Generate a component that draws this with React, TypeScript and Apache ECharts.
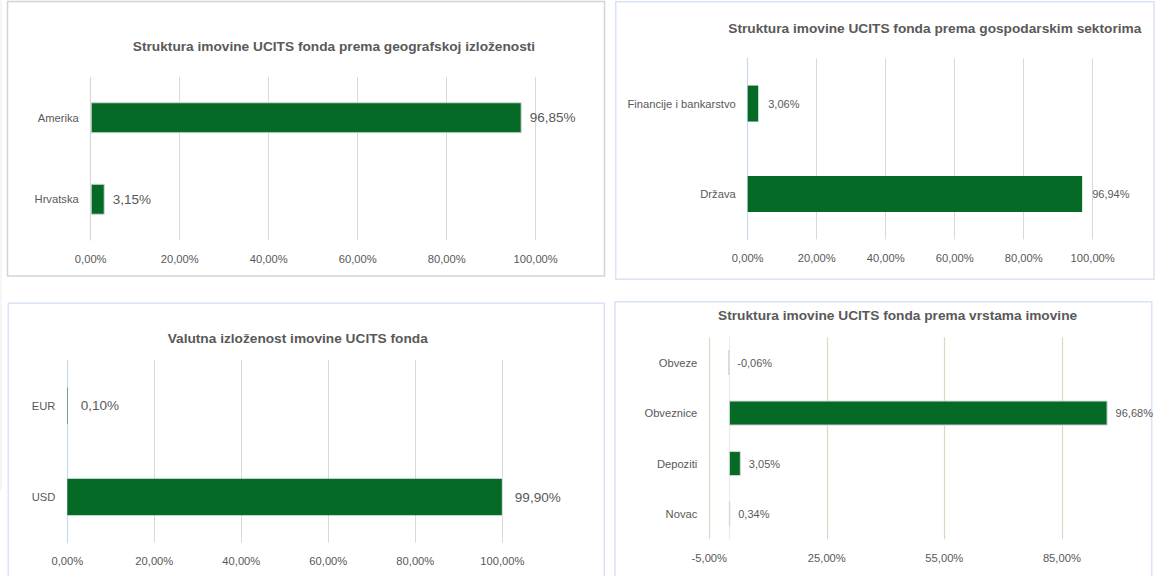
import React, { useEffect, useRef } from "react";
import * as echarts from "echarts";

// ---------- data ----------
const geoCategories = ["Amerika", "Hrvatska"];
const geoValues = [96.85, 3.15];

const sectorCategories = ["Financije i bankarstvo", "Država"];
const sectorValues = [3.06, 96.94];

const currencyCategories = ["EUR", "USD"];
const currencyValues = [0.1, 99.9];

const assetCategories = ["Obveze", "Obveznice", "Depoziti", "Novac"];
const assetValues = [-0.06, 96.68, 3.05, 0.34];

const titles = [
  "Struktura imovine UCITS fonda prema geografskoj izloženosti",
  "Struktura imovine UCITS fonda prema gospodarskim sektorima",
  "Valutna izloženost imovine UCITS fonda",
  "Struktura imovine UCITS fonda prema vrstama imovine",
];

const FONT = "'Liberation Sans Narrow', 'Arial Narrow', 'Liberation Sans', Arial, sans-serif";
const GREEN = "#046A26";
const TEXT = "#595959";

const pct = (v: number) => v.toFixed(2).replace(".", ",") + "%";

function buildOption() {
  const grids = [
    { left: 90.7, top: 77, width: 445, height: 163 },
    { left: 747.7, top: 58.3, width: 345, height: 181 },
    { left: 67.3, top: 360, width: 435, height: 182.7 },
    { left: 709.3, top: 337.3, width: 430.9, height: 202 },
  ];

  const pctAxis = (gridIndex: number, show = true) => ({
    type: "value",
    gridIndex,
    position: "bottom",
    min: 0,
    max: 100,
    interval: 20,
    axisLine: { show: false },
    axisTick: { show: false },
    axisLabel: {
      show,
      formatter: (v: number) => pct(v),
      color: TEXT,
      fontSize: 11.2,
      fontFamily: FONT,
      margin: 13,
    },
    splitLine: { show, lineStyle: { color: "#d9d9d9", width: 1 } },
  });

  const xAxes: any[] = [
    pctAxis(0),
    pctAxis(1),
    pctAxis(2),
    // panel 4 data axis (hidden)
    {
      type: "value",
      gridIndex: 3,
      position: "top",
      min: -5,
      max: 105,
      show: false,
      splitLine: { show: false },
    },
    // panel 4 label / gridline axis, same span shifted by 5
    {
      type: "value",
      gridIndex: 3,
      position: "bottom",
      min: 0,
      max: 110,
      interval: 30,
      axisLine: { show: false },
      axisTick: { show: false },
      axisLabel: {
        formatter: (v: number) => pct(v - 5),
        showMaxLabel: false,
        color: TEXT,
        fontSize: 11.2,
        fontFamily: FONT,
        margin: 13,
      },
      splitLine: {
        show: true,
        showMaxLine: false,
        lineStyle: { color: "#ddd8c4", width: 1.2 },
      },
    },
  ];

  const catAxis = (gridIndex: number, data: string[], lineColor: string) => ({
    type: "category",
    gridIndex,
    data,
    inverse: true,
    axisLine: { show: true, lineStyle: { color: lineColor, width: 1.2 } },
    axisTick: { show: false },
    axisLabel: {
      color: TEXT,
      fontSize: 11.2,
      fontFamily: FONT,
      margin: 12,
    },
  });

  const yAxes = [
    catAxis(0, geoCategories, "#d9d9d9"),
    catAxis(1, sectorCategories, "#c9d9ee"),
    catAxis(2, currencyCategories, "#c9d9ee"),
    catAxis(3, assetCategories, "#efece2"),
  ];

  const barSeries = (
    xAxisIndex: number,
    yAxisIndex: number,
    values: number[],
    barWidth: number,
    labelSize: number,
    distance: number,
    border: boolean
  ) => ({
    type: "bar",
    xAxisIndex,
    yAxisIndex,
    data: values,
    barWidth,
    itemStyle: {
      color: GREEN,
      borderColor: border ? "#d6d6d6" : GREEN,
      borderWidth: border ? 1 : 0,
    },
    label: {
      show: true,
      position: "right",
      distance,
      formatter: (p: any) => pct(p.value),
      color: TEXT,
      fontSize: labelSize,
      fontFamily: FONT,
    },
  });

  const series = [
    barSeries(0, 0, geoValues, 31, 13.5, 8, true),
    barSeries(1, 1, sectorValues, 36, 11, 10, false),
    barSeries(2, 2, currencyValues, 36.5, 13.5, 13, false),
    barSeries(3, 3, assetValues, 25, 11, 8, true),
  ];

  const titlePos = [
    { x: 334, y: 46.5 },
    { x: 934.8, y: 28.5 },
    { x: 297.7, y: 338 },
    { x: 897.6, y: 315 },
  ];

  const graphic: any[] = [
    // panel frames
    {
      type: "rect",
      shape: { x: 7.5, y: 1.5, width: 597, height: 274.5 },
      style: { fill: "none", stroke: "#d4d4d4", lineWidth: 1.5 },
      silent: true,
    },
    {
      type: "rect",
      shape: { x: 615.7, y: 1.7, width: 538.3, height: 277.6 },
      style: { fill: "none", stroke: "#dae3f3", lineWidth: 1.5 },
      silent: true,
    },
    {
      type: "rect",
      shape: { x: 8.3, y: 303.3, width: 596, height: 290 },
      style: { fill: "none", stroke: "#dae3f3", lineWidth: 1.5 },
      silent: true,
    },
    {
      type: "rect",
      shape: { x: 615, y: 301.7, width: 536.7, height: 290 },
      style: { fill: "none", stroke: "#dae3f3", lineWidth: 1.5 },
      silent: true,
    },
    {
      type: "line",
      shape: { x1: 1, y1: 0, x2: 1, y2: 490 },
      style: { stroke: "#ececec", lineWidth: 1 },
      silent: true,
    },
    ...titles.map((t, i) => ({
      type: "text",
      x: titlePos[i].x,
      y: titlePos[i].y,
      style: {
        text: t,
        textAlign: "center",
        textVerticalAlign: "middle",
        fontSize: 13.7,
        fontWeight: "bold",
        fontFamily: FONT,
        fill: TEXT,
      },
      silent: true,
    })),
  ];

  return {
    animation: false,
    backgroundColor: "#ffffff",
    grid: grids.map((g) => ({ ...g, containLabel: false })),
    xAxis: xAxes,
    yAxis: yAxes,
    series,
    graphic,
  };
}

export default function App() {
  const ref = useRef<HTMLDivElement>(null);
  useEffect(() => {
    if (!ref.current) return;
    const chart = echarts.init(ref.current, undefined, { renderer: "svg" });
    chart.setOption(buildOption() as any);
    return () => chart.dispose();
  }, []);
  return (
    <div
      ref={ref}
      style={{
        position: "fixed",
        left: 0,
        top: 0,
        width: 1159,
        height: 576,
        background: "#fff",
      }}
    />
  );
}
